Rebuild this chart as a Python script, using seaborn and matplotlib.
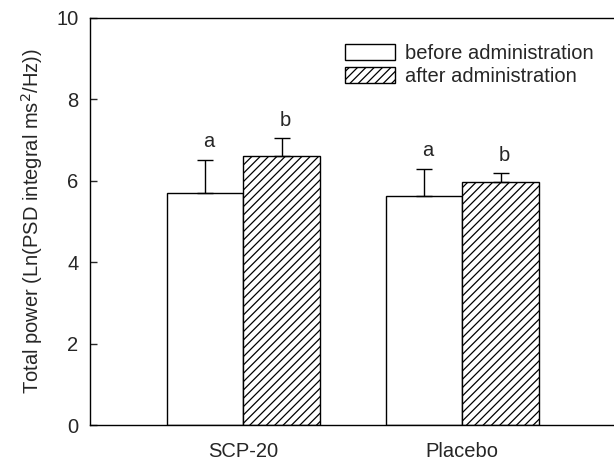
import matplotlib
matplotlib.use("Agg")
import matplotlib.pyplot as plt
import seaborn as sns
import pandas as pd

# data
groups = ["SCP-20", "Placebo"]
conditions = ["before administration", "after administration"]
before_vals = [5.70, 5.62]
after_vals = [6.60, 5.97]
before_err = [0.81, 0.67]
after_err = [0.44, 0.22]
before_marks = ["a", "a"]
after_marks = ["b", "b"]

df = pd.DataFrame({
    "group": groups * 2,
    "condition": [conditions[0]] * 2 + [conditions[1]] * 2,
    "value": before_vals + after_vals,
})

sns.set_style("ticks")
plt.rcParams["font.family"] = ["Liberation Sans", "DejaVu Sans"]
plt.rcParams["hatch.linewidth"] = 0.9
plt.rcParams["hatch.color"] = "black"

fig = plt.figure(figsize=(6.14, 4.65), dpi=100)
ax = fig.add_axes([0.1458, 0.086, 0.8542, 0.876])

sns.barplot(data=df, x="group", y="value", hue="condition", order=groups,
            hue_order=conditions, palette=["white", "white"], width=0.7, gap=0,
            edgecolor="black", linewidth=1.0, errorbar=None, ax=ax)

# hatch the "after" bars
for bar in ax.containers[1]:
    bar.set_hatch("////")

# one-sided error bars and significance letters
for cont, errs, marks in zip(ax.containers, [before_err, after_err],
                             [before_marks, after_marks]):
    for bar, e, m in zip(cont, errs, marks):
        x = bar.get_x() + bar.get_width() / 2
        h = bar.get_height()
        ax.errorbar(x, h, yerr=[[0], [e]], fmt="none", ecolor="black",
                    elinewidth=1.0, capsize=5.5, capthick=1.0)
        ax.annotate(m, (x, h + e), xytext=(3, 6), textcoords="offset points",
                    ha="center", va="bottom", fontsize=14.5)

ax.set_xlim(-0.702, 1.693)
ax.set_ylim(0, 10)
ax.set_yticks([0, 2, 4, 6, 8, 10])
ax.set_xlabel("")
ax.set_ylabel("Total power (Ln(PSD integral ms$^2$/Hz))", fontsize=14.5, labelpad=8)
ax.tick_params(axis="y", direction="in", length=5, width=1, labelsize=14.5, pad=8)
ax.tick_params(axis="x", length=0, labelsize=14.5, pad=12)

for side in ["left", "bottom", "top"]:
    ax.spines[side].set_visible(True)
    ax.spines[side].set_linewidth(1.0)
    ax.spines[side].set_color("black")
ax.spines["right"].set_visible(False)

ax.legend(ax.containers, conditions, loc="upper left", bbox_to_anchor=(0.452, 0.98),
          frameon=False, fontsize=14.5, handlelength=2.5, handleheight=0.8,
          handletextpad=0.5, labelspacing=0.2)

fig.savefig("out.png", dpi=100)
